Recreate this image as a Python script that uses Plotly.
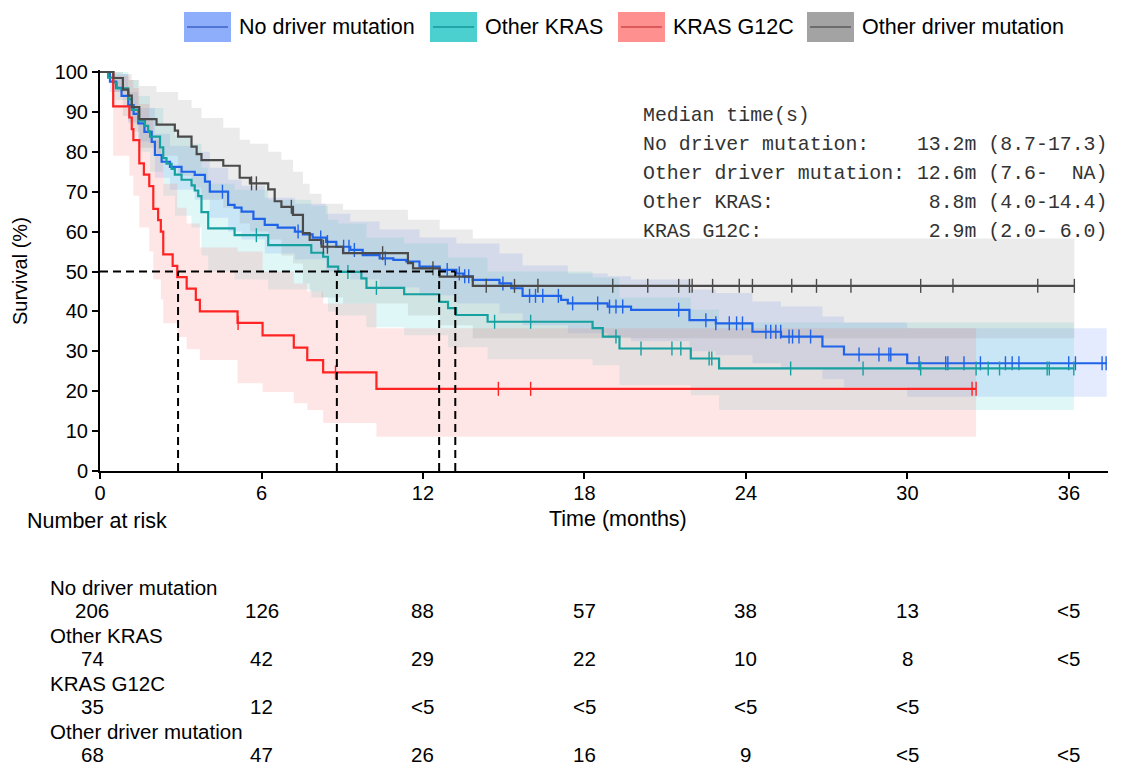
import numpy as np
import plotly.graph_objects as go

# ---------------- data ----------------
groups = ["No driver mutation", "Other KRAS", "KRAS G12C", "Other driver mutation"]

# No driver mutation
nd_t = [0, 0.37, 0.6, 0.8, 1.05, 1.25, 1.42, 1.65, 1.92, 2.04, 2.29, 2.6, 3.03, 3.52, 3.9, 4.08, 4.76, 5.0,
        5.26, 5.7, 6.12, 6.6, 7.24, 7.54, 7.9, 8.4, 8.78, 9.3, 9.76, 10.39, 10.9, 11.38, 11.87, 12.62, 13.24,
        13.5, 13.85, 14.84, 15.28, 15.7, 17.13, 17.38, 18.86, 19.73, 21.9, 22.88, 24.24, 25.3, 26.84, 27.64, 29.99]
nd_s = [100, 97.6, 96, 94, 91.7, 89.5, 87.1, 85, 82.5, 79.2, 77.5, 76.2, 75, 74.2, 72.5, 70, 66.7, 66,
        65, 63.2, 61.7, 61, 60, 59.3, 58.5, 57.4, 56.2, 55.4, 54.1, 53.3, 52.9, 52.5, 51.2, 50.4, 49.5,
        48.8, 47.9, 47, 45.8, 43.9, 42.9, 42, 41.2, 40.4, 37.8, 37, 34.9, 33.7, 31.2, 29.2, 27]
nd_end = 37.4
nd_cens = [4.55, 7.36, 8.2, 8.45, 9.05, 9.25, 9.45, 10.6, 12.9, 13.35, 13.55, 13.7, 14.97, 15.96, 16.18, 16.45,
           17.03, 17.56, 18.49, 18.93, 19.17, 19.42, 21.5, 22.51, 22.88, 23.38, 23.65, 23.87, 24.74, 24.92, 25.11,
           25.29, 25.6, 25.73, 25.97, 26.4, 28.2, 28.94, 29.31, 29.38, 30.43, 31.42, 31.5, 32.1, 32.71, 33.64,
           33.89, 34.14, 35.99, 36.24, 37.23, 37.38]
nd_band_t = [0, 0.37, 1.05, 1.42, 2.04, 2.6, 3.52, 4.08, 4.76, 5.26, 6.12, 7.24, 8.4, 9.3, 10.39, 11.87, 13.24,
             14.84, 15.7, 17.38, 18.86, 19.73, 21.9, 22.88, 24.24, 25.3, 26.84, 27.64, 29.99]
nd_lo = [100, 95, 87.5, 82.5, 73.5, 70.5, 68, 63.5, 60, 58, 54.5, 53, 50, 48, 46, 44, 42, 39.5, 36.5, 34.5,
         33.5, 32.5, 30, 29, 27, 25.5, 23, 21, 18.6]
nd_hi = [100, 99.5, 95, 91, 84.5, 81.5, 80, 76, 73, 71.5, 68.5, 67, 64.5, 62.5, 60.5, 58.5, 57, 54.5, 51.5,
         49.5, 48.8, 48, 45.5, 44.6, 42.5, 41.2, 38.7, 37.2, 35.8]

# Other KRAS
ok_t = [0, 0.3, 0.49, 0.62, 1.05, 1.18, 1.42, 1.67, 1.79, 1.86, 2.23, 2.35, 2.47, 2.66, 2.78, 3.03, 3.4, 3.52,
        3.65, 3.77, 4.02, 5.0, 6.25, 7.85, 8.29, 8.47, 8.85, 9.71, 9.9, 11.3, 12.6, 12.93, 13.23, 14.4, 18.3,
        18.68, 19.3, 21.95, 23.0]
ok_s = [100, 98.6, 97.3, 95.9, 93.2, 90.5, 87.8, 86.5, 85.1, 83.8, 81.1, 78.4, 77.0, 75.7, 74.3, 73.0, 71.6, 70.3,
        68.9, 64.9, 60.8, 59.1, 56.6, 54.7, 53.7, 51.2, 49.9, 48.3, 45.9, 44.3, 42.4, 40.8, 39.1, 37.4, 35.8,
        33.7, 30.7, 28.2, 25.7]
ok_end = 36.18
ok_cens = [5.81, 9.21, 10.27, 14.66, 16.0, 19.17, 20.1, 21.25, 21.58, 22.63, 22.73, 25.66, 28.35, 30.49, 32.55,
           33.0, 33.42, 35.19, 35.27, 36.18]
ok_band_t = [0, 0.49, 1.05, 1.42, 1.86, 2.35, 2.78, 3.4, 3.77, 4.02, 5.0, 6.25, 7.85, 8.47, 8.85, 9.9, 11.3,
             12.93, 14.4, 18.3, 19.3, 21.95, 23.0]
ok_lo = [100, 93, 87, 80, 75, 69, 64, 61, 54, 50, 48, 45.5, 43.5, 40, 39, 36, 34, 31, 28, 26.5, 21.5, 19, 15.3]
ok_hi = [100, 100, 98, 94, 91, 87, 84, 82, 76, 72, 70.5, 68, 66.5, 63, 62, 58.5, 57, 53.5, 50, 48.5, 43.5,
         40.5, 37.2]

# KRAS G12C
kg_t = [0, 0.49, 1.09, 1.18, 1.24, 1.46, 1.63, 1.83, 1.98, 2.16, 2.26, 2.35, 2.70, 2.87, 3.22, 3.56, 3.71,
        5.11, 6.04, 7.20, 7.7, 8.29, 10.27]
kg_s = [100, 91.4, 88.6, 85.7, 82.9, 77.1, 74.3, 71.4, 65.7, 62.9, 60.0, 54.3, 51.4, 48.6, 45.7, 42.9, 40.0,
        37.1, 34.0, 30.9, 27.8, 24.7, 20.6]
kg_end = 32.55
kg_cens = [5.13, 8.75, 14.8, 16.0, 32.4, 32.55]
kg_band_t = [0, 0.49, 1.09, 1.24, 1.46, 1.83, 1.98, 2.26, 2.35, 2.87, 3.22, 3.71, 5.11, 6.04, 7.2, 7.7, 8.29, 10.27]
kg_lo = [100, 79, 74, 69, 61, 55, 48, 43, 37, 33.6, 30.5, 27.8, 22, 19.8, 17, 15.3, 12, 8.6]
kg_hi = [100, 99, 98, 96, 92, 88, 83, 78, 72, 66, 62, 56, 55, 50, 47, 45, 42, 35.8]

# Other driver mutation
od_t = [0, 0.5, 0.85, 1.05, 1.18, 1.46, 2.1, 2.78, 2.9, 3.4, 3.59, 3.77, 4.58, 5.19, 5.57, 6.25, 6.49, 6.74,
        7.17, 7.54, 7.79, 8.23, 9.03, 11.44, 11.63, 12.62, 13.85]
od_s = [100, 98.5, 95.6, 94.1, 91.2, 88.2, 86.8, 85.3, 83.8, 81.3, 79.4, 77.9, 76.5, 73.5, 72.1, 70.6, 67.6, 66.2,
        64.2, 59.6, 57.9, 56.2, 54.6, 52.1, 50.8, 48.7, 46.4]
od_end = 36.2
od_cens = [5.63, 5.81, 7.11, 8.3, 8.45, 10.5, 12.37, 14.35, 15.4, 16.27, 19.05, 20.35, 21.5, 21.9, 22.0, 22.76,
           23.75, 24.24, 25.7, 26.62, 27.9, 30.49, 31.69, 34.84, 36.2]
od_band_t = [0, 0.5, 0.85, 1.18, 1.46, 2.1, 2.9, 3.4, 3.77, 4.58, 5.19, 5.57, 6.25, 6.74, 7.17, 7.54, 7.79, 8.23,
             9.03, 11.44, 12.62, 13.85]
od_lo = [100, 95, 89, 85, 81, 79, 74, 71, 68, 66, 62, 60, 58, 54, 52, 47, 45, 43.5, 42, 39, 36.5, 33.3]
od_hi = [100, 100, 99.5, 98, 96.5, 95, 93, 91, 88.5, 86, 83, 82, 80, 78, 75, 72, 69.5, 67, 65.5, 63, 60.5, 58.3]

medians = [13.2, 12.6, 8.8, 2.9]
median_labels = ["No driver mutation:", "Other driver mutation:", "Other KRAS:", "KRAS G12C:"]
median_values = ["13.2m (8.7-17.3)", "12.6m (7.6-  NA)", " 8.8m (4.0-14.4)", " 2.9m (2.0- 6.0)"]

risk_times = [0, 6, 12, 18, 24, 30, 36]
risk_nd = ["206", "126", "88", "57", "38", "13", "<5"]
risk_ok = ["74", "42", "29", "22", "10", "8", "<5"]
risk_kg = ["35", "12", "<5", "<5", "<5", "<5", ""]
risk_od = ["68", "47", "26", "16", "9", "<5", "<5"]

x_ticks = [0, 6, 12, 18, 24, 30, 36]
y_ticks = [0, 10, 20, 30, 40, 50, 60, 70, 80, 90, 100]

# ---------------- styling ----------------
line_cols = ["#1f63e8", "#17a0a0", "#ff2424", "#4a4a4a"]
band_cols = ["rgba(95,135,250,0.17)", "rgba(70,205,205,0.17)", "rgba(255,105,105,0.17)", "rgba(135,135,135,0.17)"]
leg_fill = ["#8eaefc", "#4ccfcf", "#ff9090", "#a3a3a3"]
leg_line = ["#3a62c8", "#139a9a", "#d04848", "#5a5a5a"]
FONT = "Arial, Liberation Sans, sans-serif"
MONO = "Courier New, Liberation Mono, monospace"
TXT = 21.5
RISK = 20.5

curves = [
    (nd_t, nd_s, nd_end, nd_cens, nd_band_t, nd_lo, nd_hi),
    (ok_t, ok_s, ok_end, ok_cens, ok_band_t, ok_lo, ok_hi),
    (kg_t, kg_s, kg_end, kg_cens, kg_band_t, kg_lo, kg_hi),
    (od_t, od_s, od_end, od_cens, od_band_t, od_lo, od_hi),
]

# pixel geometry of the figure
W, H = 1129, 765
ML, MR, MT, MB = 100, 21, 70, 294
PW, PH = W - ML - MR, H - MT - MB


def px(x):
    return (x - ML) / PW


def py(y):
    return (H - MB - y) / PH


fig = go.Figure()

# confidence bands
for i, (t, s, end, cens, bt, lo, hi) in enumerate(curves):
    bx = list(bt) + [end]
    fig.add_trace(go.Scatter(x=bx, y=list(lo) + [lo[-1]], mode="lines", line=dict(width=0, shape="hv"),
                             hoverinfo="skip", showlegend=False))
    fig.add_trace(go.Scatter(x=bx, y=list(hi) + [hi[-1]], mode="lines", line=dict(width=0, shape="hv"),
                             fill="tonexty", fillcolor=band_cols[i], hoverinfo="skip", showlegend=False))

# survival curves + censor marks
for i, (t, s, end, cens, bt, lo, hi) in enumerate(curves):
    fig.add_trace(go.Scatter(x=list(t) + [end], y=list(s) + [s[-1]], mode="lines",
                             line=dict(color=line_cols[i], width=2.2, shape="hv"),
                             name=groups[i], showlegend=False))
    ta = np.array(t)
    sa = np.array(s)
    idx = np.searchsorted(ta, np.array(cens), side="right") - 1
    fig.add_trace(go.Scatter(x=cens, y=sa[idx], mode="markers",
                             marker=dict(symbol="line-ns", size=10, line=dict(color=line_cols[i], width=1.4)),
                             showlegend=False, hoverinfo="skip"))

# median dashed lines
fig.add_trace(go.Scatter(x=[0, max(medians)], y=[50, 50], mode="lines",
                         line=dict(color="black", width=2, dash="8px,5px"), showlegend=False))
for m in medians:
    fig.add_trace(go.Scatter(x=[m, m], y=[0, 50], mode="lines",
                             line=dict(color="black", width=2, dash="8px,5px"), showlegend=False))

shapes = []
annotations = []

# custom legend at top
leg_box_x = [184, 430, 618, 807]
for i, g in enumerate(groups):
    x0 = leg_box_x[i]
    shapes.append(dict(type="rect", xref="paper", yref="paper", x0=px(x0), x1=px(x0 + 47), y0=py(42), y1=py(12),
                       fillcolor=leg_fill[i], line=dict(width=0), layer="above"))
    shapes.append(dict(type="line", xref="paper", yref="paper", x0=px(x0 + 3), x1=px(x0 + 44), y0=py(27), y1=py(27),
                       line=dict(color=leg_line[i], width=1.6), layer="above"))
    annotations.append(dict(xref="paper", yref="paper", x=px(x0 + 53), y=py(27), text=g, showarrow=False,
                            xanchor="left", yanchor="middle", font=dict(family=FONT, size=TXT, color="black")))

# median time text block
nb = "\u00a0"
mono_lines = ["Median time(s)"]
for lab, val in zip(median_labels, median_values):
    mono_lines.append(lab.ljust(23) + val)
for k, ln in enumerate(mono_lines):
    annotations.append(dict(xref="paper", yref="paper", x=px(641), y=py(115 + 29 * k), text=ln.replace(" ", nb),
                            showarrow=False, xanchor="left", yanchor="middle",
                            font=dict(family=MONO, size=19.85, color="#333333")))

# axis titles
annotations.append(dict(xref="paper", yref="paper", x=px(20), y=py(271), text="Survival (%)", textangle=-90,
                        showarrow=False, xanchor="center", yanchor="middle",
                        font=dict(family=FONT, size=20, color="black")))
annotations.append(dict(xref="paper", yref="paper", x=px(618), y=py(519), text="Time (months)", showarrow=False,
                        xanchor="center", yanchor="middle", font=dict(family=FONT, size=TXT, color="black")))
annotations.append(dict(xref="paper", yref="paper", x=px(25), y=py(521), text="Number at risk", showarrow=False,
                        xanchor="left", yanchor="middle", font=dict(family=FONT, size=TXT, color="black")))

# risk table
risk_rows = [risk_nd, risk_ok, risk_kg, risk_od]
for r, (g, row) in enumerate(zip(groups, risk_rows)):
    ylab = 588 + 48 * r
    annotations.append(dict(xref="paper", yref="paper", x=px(48), y=py(ylab - 1), text=g, showarrow=False,
                            xanchor="left", yanchor="middle", font=dict(family=FONT, size=RISK, color="black")))
    for tt, v in zip(risk_times, row):
        if v == "":
            continue
        annotations.append(dict(xref="x", yref="paper", x=tt, y=py(ylab + 22), text=v, showarrow=False,
                                xanchor="center", yanchor="middle", xshift=-8 if tt == 0 else 0,
                                font=dict(family=FONT, size=RISK, color="black")))

fig.update_layout(
    width=W, height=H,
    margin=dict(l=ML, r=MR, t=MT, b=MB),
    paper_bgcolor="white", plot_bgcolor="white",
    showlegend=False,
    shapes=shapes, annotations=annotations,
    xaxis=dict(range=[0, 37.45], tickvals=x_ticks, ticktext=[str(v) for v in x_ticks], showgrid=False,
               zeroline=False, showline=True, linecolor="black", linewidth=2, ticks="outside", ticklen=6,
               tickwidth=2, tickcolor="black", ticklabelstandoff=-3,
               tickfont=dict(family=FONT, size=20, color="black")),
    yaxis=dict(range=[0, 100.5], tickvals=y_ticks, showgrid=False, zeroline=False, showline=True,
               linecolor="black", linewidth=2, ticks="outside", ticklen=6, tickwidth=2, tickcolor="black",
               tickfont=dict(family=FONT, size=20, color="black")),
)

fig.write_html("out.html", config={"displayModeBar": False},
               post_script="document.body.style.margin='0px';")
